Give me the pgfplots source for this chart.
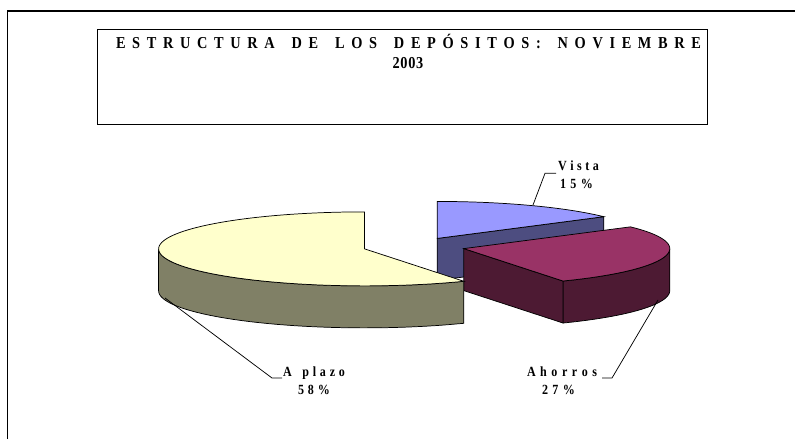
\documentclass[border=0pt]{standalone}
\usepackage{fontspec}
\setmainfont{Liberation Serif}
\newfontfamily\narrowfont[FakeStretch=0.86]{Liberation Serif}
\usepackage{pgfplots}
\usepackage{pgfplotstable}
\pgfplotsset{compat=1.18}
\pgfplotstableread{
label share
Vista 15
Ahorros 27
Aplazo 58
}\pietable
\definecolor{vtop}{RGB}{153,153,255}
\definecolor{vside}{RGB}{77,77,128}
\definecolor{atop}{RGB}{153,51,102}
\definecolor{aside}{RGB}{77,26,51}
\definecolor{ptop}{RGB}{255,255,204}
\definecolor{pside}{RGB}{128,128,102}
\begin{document}
\begin{tikzpicture}
% data
\pgfplotstablegetelem{0}{share}\of\pietable \edef\sV{\pgfplotsretval}
\pgfplotstablegetelem{1}{share}\of\pietable \edef\sA{\pgfplotsretval}
\pgfplotstablegetelem{2}{share}\of\pietable \edef\sP{\pgfplotsretval}
% geometry (pixels of the reference)
\def\cx{414}\def\cy{246.6}\def\ra{206}\def\rb{37}\def\hh{42}\def\ex{51}
\pgfmathsetmacro\tA{3.6*\sV}
\pgfmathsetmacro\tB{3.6*(\sV+\sA)}
\pgfmathsetmacro\tC{3.6*(\sV+\sA+\sP)}
\pgfmathsetmacro\mV{\tA/2}
\pgfmathsetmacro\mA{(\tA+\tB)/2}
\pgfmathsetmacro\mP{(\tB+\tC)/2}
\pgfmathsetmacro\XV{\cx+\ex*sin(\mV)}
\pgfmathsetmacro\YV{\cy-\ex*\rb/\ra*cos(\mV)}
\pgfmathsetmacro\XA{\cx+\ex*sin(\mA)}
\pgfmathsetmacro\YA{\cy-\ex*\rb/\ra*cos(\mA)}
\pgfmathsetmacro\XP{\cx+\ex*sin(\mP)}
\pgfmathsetmacro\YP{\cy-\ex*\rb/\ra*cos(\mP)}
% rim points of the visible cut faces
\pgfmathsetmacro\XVe{\XV+\ra*sin(\tA)}
\pgfmathsetmacro\YVe{\YV-\rb*cos(\tA)}
\pgfmathsetmacro\YVeh{\YVe+\hh}
\pgfmathsetmacro\YVh{\YV+\hh}
\pgfmathsetmacro\XAe{\XA+\ra*sin(\tB)}
\pgfmathsetmacro\YAe{\YA-\rb*cos(\tB)}
\pgfmathsetmacro\YAeh{\YAe+\hh}
\pgfmathsetmacro\YAh{\YA+\hh}
\begin{axis}[
  scale only axis, width=596.25pt, height=329.25pt,
  xmin=0, xmax=795, ymin=0, ymax=439, y dir=reverse,
  hide axis, clip=false, no markers,
  declare function={wth(\t,\s,\e)=(\t<=1.0001)*(\s+(\e-\s)*\t)+(\t>1.0001)*(\e-(\e-\s)*(\t-1.0002));},
  every axis plot/.append style={line width=0.55pt, draw=black},
  wall/.style={variable=\t, samples at={0,0.025,...,0.975,1,1.0002,1.025,1.05,...,1.975,2.0002}},
]
% frame and title box
\draw[line width=1.2pt] (axis cs:7.5,439) -- (axis cs:7.5,11) -- (axis cs:795,11);
\draw[line width=0.75pt] (axis cs:97,29.5) rectangle (axis cs:707,124);
\node[anchor=base, inner sep=0pt, font=\fontsize{12.5}{14}\narrowfont\bfseries] at (axis cs:408.5,48.2)
 {\makebox[438.75pt][s]{E\hfill S\hfill T\hfill R\hfill U\hfill C\hfill T\hfill U\hfill R\hfill A\hfill\ \hfill D\hfill E\hfill\ \hfill L\hfill O\hfill S\hfill\ \hfill D\hfill E\hfill P\hfill Ó\hfill S\hfill I\hfill T\hfill O\hfill S\hfill :\hfill\ \hfill N\hfill O\hfill V\hfill I\hfill E\hfill M\hfill B\hfill R\hfill E}};
\node[anchor=base, inner sep=0pt, font=\fontsize{12.5}{14}\narrowfont\bfseries] at (axis cs:408,68.6)
 {\makebox[23pt][s]{2\hfill 0\hfill 0\hfill 3}};
% ---- Vista (back) ----
\addplot[fill=vside] coordinates {(\XV,\YV) (\XVe,\YVe) (\XVe,\YVeh) (\XV,\YVh)} -- cycle;
\addplot[fill=vtop, variable=\t, domain=0:\tA, samples=50] ({\XV+\ra*sin(\t)},{\YV-\rb*cos(\t)}) -- (axis cs:\XV,\YV) -- cycle;
% ---- Ahorros ----
\addplot[fill=aside, wall]
  ({\XA+\ra*sin(wth(\t,90,\tB))},{\YA-\rb*cos(wth(\t,90,\tB))+(\t>1.0001)*\hh}) -- cycle;
\addplot[fill=aside] coordinates {(\XA,\YA) (\XAe,\YAe) (\XAe,\YAeh) (\XA,\YAh)} -- cycle;
\addplot[fill=atop, variable=\t, domain=\tA:\tB, samples=60] ({\XA+\ra*sin(\t)},{\YA-\rb*cos(\t)}) -- (axis cs:\XA,\YA) -- cycle;
% ---- A plazo (front) ----
\addplot[fill=pside, wall]
  ({\XP+\ra*sin(wth(\t,\tB,270))},{\YP-\rb*cos(wth(\t,\tB,270))+(\t>1.0001)*\hh}) -- cycle;
\addplot[fill=ptop, variable=\t, domain=\tB:\tC, samples=100] ({\XP+\ra*sin(\t)},{\YP-\rb*cos(\t)}) -- (axis cs:\XP,\YP) -- cycle;
% ---- leader lines ----
\addplot[black, line width=0.55pt] coordinates {(533,205) (545,173.3) (556,173.3)};
\addplot[black, line width=0.55pt] coordinates {(165,298) (272,378) (282,378)};
\addplot[black, line width=0.55pt] coordinates {(658,300) (612,378) (602,378)};
% ---- labels ----
\begin{scope}[every node/.style={anchor=base, inner sep=0pt, font=\fontsize{10.5}{12}\narrowfont\bfseries}]
\node at (axis cs:578.5,170) {\makebox[30.75pt][s]{V\hfill i\hfill s\hfill t\hfill a}};
\node at (axis cs:576.5,188.3) {\makebox[24.75pt][s]{1\hfill 5\hfill\%}};
\node at (axis cs:314,376.7) {\makebox[46.5pt][s]{A\hfill\ \hfill p\hfill l\hfill a\hfill z\hfill o}};
\node at (axis cs:314,394.3) {\makebox[24pt][s]{5\hfill 8\hfill\%}};
\node at (axis cs:562,376.7) {\makebox[52.5pt][s]{A\hfill h\hfill o\hfill r\hfill r\hfill o\hfill s}};
\node at (axis cs:558.5,394.3) {\makebox[24.75pt][s]{2\hfill 7\hfill\%}};
\end{scope}
\end{axis}
\pgfresetboundingbox
\path (current axis.south west) rectangle (current axis.north east);
\end{tikzpicture}
\end{document}
